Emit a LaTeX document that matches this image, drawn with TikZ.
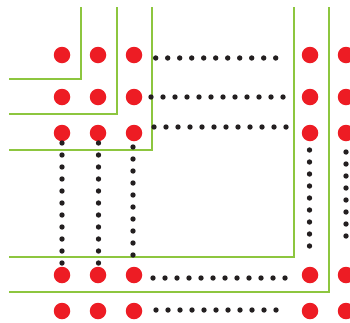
\documentclass[tikz,border=0pt]{standalone}
\usepackage{tikz}
\usetikzlibrary{positioning}
\usetikzlibrary{calc}
\definecolor{pRed}{HTML}{ED1C24}
\definecolor{pGreen}{HTML}{8DC63F}
\definecolor{pBlack}{HTML}{231F20}

\begin{document}
\begin{tikzpicture}[x=1pt, y=-1pt,
    reddot/.style={circle, fill=pRed, minimum size=16.5pt, inner sep=0pt},
    wall/.style={draw=pGreen, line width=2.7pt, line join=miter},
    dotrow/.style={draw=pBlack, line width=5.4pt, line cap=round, dash pattern=on 0pt off 12pt}]
  \useasboundingbox (0,0) rectangle (350,322);

  % red sites
  \foreach \y [count=\r] in {55,97,133,275,311} {
    \foreach \x [count=\c] in {62,98,134,310,346} {
      \node[reddot] (dot-\r-\c) at (\x,\y) {};
    }
  }

  % green walls
  \draw[wall] (81,7) -- (81,79) -- (9,79);
  \draw[wall] (117,7) -- (117,114) -- (9,114);
  \draw[wall] (152,7) -- (152,150) -- (9,150);
  \draw[wall] (294,7) -- (294,257) -- (9,257);
  \draw[wall] (329,7) -- (329,292) -- (9,292);

  % horizontal chains
  \draw[dotrow] ($(dot-1-3)+(21.7,3)$) -- ($(dot-1-4)+(-33.3,3)$);
  \draw[dotrow] ($(dot-2-3)+(17,0)$) -- ($(dot-2-4)+(-26,0)$);
  \draw[dotrow] ($(dot-3-3)+(20,-6)$) -- ($(dot-3-4)+(-23,-6)$);
  \draw[dotrow] ($(dot-4-3)+(19,3)$) -- ($(dot-4-4)+(-23,3)$);
  \draw[dotrow] ($(dot-5-3)+(22,-1)$) -- ($(dot-5-4)+(-33,-1)$);

  % vertical chains
  \draw[dotrow] ($(dot-3-1)+(0,10)$) -- ($(dot-4-1)+(0,-11.5)$);
  \draw[dotrow] ($(dot-3-2)+(0.5,10)$) -- ($(dot-4-2)+(0.5,-11.5)$);
  \draw[dotrow] ($(dot-3-3)+(-1,14)$) -- ($(dot-4-3)+(-1,-17.5)$);
  \draw[dotrow] ($(dot-3-4)+(-0.5,17)$) -- ($(dot-4-4)+(-0.5,-28)$);
  \draw[dotrow] ($(dot-3-5)+(0,19)$) -- ($(dot-4-5)+(0,-38.5)$);
\end{tikzpicture}
\end{document}
